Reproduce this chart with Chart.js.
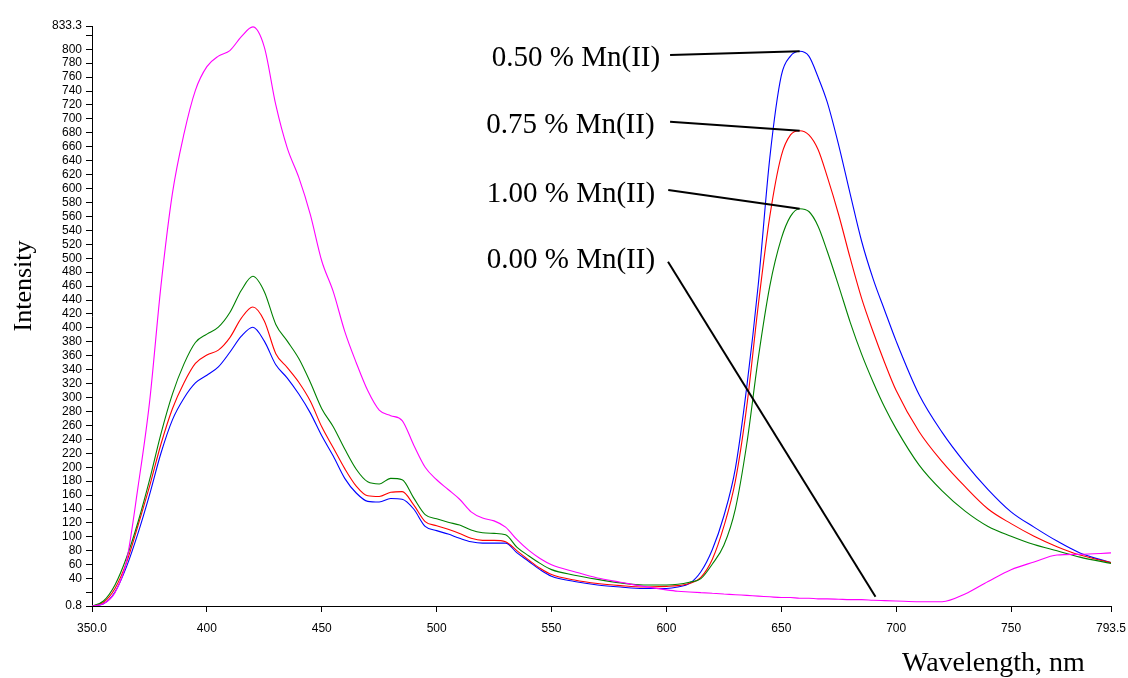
<!DOCTYPE html>
<html>
<head>
<meta charset="utf-8">
<script src="https://cdn.jsdelivr.net/npm/chart.js@4.4.0/dist/chart.umd.min.js"></script>
<style>
  body { margin: 0; background: #fff; }
  canvas { display: block; }
</style>
</head>
<body>
<canvas id="myChart" width="1128" height="678"></canvas>
<script>
// wavelength grid (nm)
const wavelength = [350, 355, 360, 365, 370, 375, 380, 385, 390, 395, 400, 405, 410, 415, 420, 425, 430, 435, 440, 445,
  450, 455, 460, 465, 470, 475, 480, 485, 490, 495, 500, 505, 510, 515, 520, 525, 530, 535, 540, 545, 550,
  560, 570, 580, 590, 600, 605, 610, 615, 620, 625, 630, 635, 640, 645, 650, 654, 658, 662, 666, 670,
  675, 680, 685, 690, 695, 700, 710, 720, 730, 740, 750, 760, 770, 780, 793.5];

const mn000 = [0.8, 4, 20, 65, 171, 292, 460, 593, 678, 741, 775, 790, 798, 818, 832, 803, 720, 658, 616, 563,
  496, 452, 395, 350, 310, 282, 274, 267, 232, 200, 182, 168, 154, 136, 127, 123, 114, 96, 81, 69, 60,
  50, 41, 35, 29, 24, 22, 21, 20, 19, 18, 17, 16, 15, 14, 13, 13, 12, 12, 11, 11,
  10.5, 10, 10, 9, 8.5, 8, 7, 7, 18, 36, 53, 64, 74, 75, 77];

const mn100 = [0.8, 8, 31, 70, 121, 181, 248, 305, 348, 379, 391, 401, 422, 454, 474, 452, 405, 381, 356, 322,
  284, 258, 226, 197, 179, 176, 184, 182, 156, 132, 126, 121, 117, 110, 106, 105, 103, 85, 73, 62, 53,
  45, 39, 34, 31, 31, 32, 35, 40, 61, 88, 140, 234, 357, 460, 528, 560, 571, 567, 546, 510,
  460, 408, 362, 322, 286, 255, 203, 166, 137, 115, 101, 89, 80, 71, 62];

const mn075 = [0.8, 6, 26, 63, 116, 172, 233, 284, 321, 349, 361, 368, 386, 414, 430, 410, 363, 343, 322, 295,
  258, 228, 198, 173, 159, 158, 164, 165, 146, 122, 116, 111, 105, 98, 95, 95, 93, 80, 67, 55, 46,
  38, 33, 30, 28, 29, 30, 33, 42, 68, 115, 180, 288, 433, 560, 647, 677, 683, 677, 656, 617,
  562, 500, 442, 394, 350, 310, 251, 208, 172, 140, 119, 101, 86, 74, 63];

const mn050 = [0.8, 4, 21, 57, 105, 160, 220, 268, 299, 321, 332, 344, 365, 388, 401, 381, 347, 328, 305, 278,
  245, 216, 184, 163, 151, 150, 155, 154, 140, 115, 109, 104, 98, 93, 91, 91, 91, 77, 65, 53, 43.5,
  36, 31, 28, 26, 26, 28, 33, 50, 82, 130, 198, 316, 463, 644, 762, 790, 797, 790, 760, 724,
  662, 592, 524, 470, 425, 381, 304, 250, 206, 168, 136, 114, 94, 77, 63];

const xTicks = [350, 400, 450, 500, 550, 600, 650, 700, 750, 793.5];
const yTicks = [0.8, 20, 40, 60, 80, 100, 120, 140, 160, 180, 200, 220, 240, 260, 280, 300, 320, 340, 360, 380,
  400, 420, 440, 460, 480, 500, 520, 540, 560, 580, 600, 620, 640, 660, 680, 700, 720, 740, 760, 780,
  800, 820, 833.3];
const yHidden = [20, 820];

const seriesNames = ['0.00 % Mn(II)', '1.00 % Mn(II)', '0.75 % Mn(II)', '0.50 % Mn(II)'];
const seriesColors = ['#ff00ff', '#008000', '#ff0000', '#0000ff'];

function points(vals) {
  return wavelength.map((w, i) => ({ x: w, y: vals[i] }));
}

// callout labels with their leader lines, in data units
const callouts = [
  { text: '0.50 % Mn(II)', at: [524.0, 776], from: [601.6, 791.7], to: [658, Math.max(...mn050)] },
  { text: '0.75 % Mn(II)', at: [521.6, 680], from: [601.6, 696], to: [658, Math.max(...mn075)] },
  { text: '1.00 % Mn(II)', at: [521.8, 581], from: [600.8, 598], to: [658, Math.max(...mn100)] },
  { text: '0.00 % Mn(II)', at: [521.8, 486], from: [600.7, 495], to: [691, 14] },
];

const calloutPlugin = {
  id: 'callouts',
  afterDatasetsDraw(chart) {
    const { ctx } = chart;
    const x = chart.scales.x, y = chart.scales.y;
    ctx.save();
    ctx.fillStyle = '#000';
    ctx.strokeStyle = '#000';
    ctx.lineWidth = 2;
    ctx.font = '29px "Liberation Serif", "Times New Roman", serif';
    ctx.textBaseline = 'alphabetic';
    callouts.forEach(c => {
      ctx.fillText(c.text, x.getPixelForValue(c.at[0]), y.getPixelForValue(c.at[1]));
      ctx.beginPath();
      ctx.moveTo(x.getPixelForValue(c.from[0]), y.getPixelForValue(c.from[1]));
      ctx.lineTo(x.getPixelForValue(c.to[0]), y.getPixelForValue(c.to[1]));
      ctx.stroke();
    });

    // axis titles
    ctx.font = '28px "Liberation Serif", "Times New Roman", serif';
    ctx.fillText('Wavelength, nm', 902, 671);
    ctx.font = '26px "Liberation Serif", "Times New Roman", serif';
    ctx.translate(31, 286);
    ctx.rotate(-Math.PI / 2);
    ctx.textAlign = 'center';
    ctx.fillText('Intensity', 0, 0);
    ctx.restore();
  }
};

const tickFont = { family: '"Liberation Sans", Arial, sans-serif', size: 12 };

const ctx = document.getElementById('myChart');
new Chart(ctx, {
  type: 'line',
  data: {
    datasets: [mn000, mn100, mn075, mn050].map((vals, i) => ({
      label: seriesNames[i],
      data: points(vals),
      borderColor: seriesColors[i],
      borderWidth: 1.1,
      pointRadius: 0,
      cubicInterpolationMode: 'monotone',
      fill: false,
    })),
  },
  options: {
    responsive: false,
    animation: false,
    layout: { autoPadding: false, padding: { top: 26, right: 17, left: 0, bottom: 0 } },
    plugins: { legend: { display: false }, tooltip: { enabled: false } },
    scales: {
      x: {
        type: 'linear',
        min: 350,
        max: 793.5,
        afterBuildTicks: s => { s.ticks = xTicks.map(v => ({ value: v })); },
        afterFit: s => { s.height = 72; s.paddingLeft = 0; s.paddingRight = 0; },
        ticks: {
          autoSkip: false,
          maxRotation: 0,
          padding: 9,
          color: '#000',
          font: tickFont,
          callback: v => (v === 350 ? '350.0' : String(v)),
        },
        grid: { drawOnChartArea: false, drawTicks: true, tickLength: 6, color: '#000' },
        border: { display: true, color: '#000', width: 1 },
      },
      y: {
        type: 'linear',
        min: 0.8,
        max: 833.3,
        afterBuildTicks: s => { s.ticks = yTicks.map(v => ({ value: v })); },
        afterFit: s => { s.width = 92; s.paddingTop = 0; s.paddingBottom = 0; },
        ticks: {
          autoSkip: false,
          padding: 4,
          color: '#000',
          font: tickFont,
          callback: v => (yHidden.includes(v) ? '' : String(v)),
        },
        grid: { drawOnChartArea: false, drawTicks: true, tickLength: 6, color: '#000' },
        border: { display: true, color: '#000', width: 1 },
      },
    },
  },
  plugins: [calloutPlugin],
});
</script>
</body>
</html>
